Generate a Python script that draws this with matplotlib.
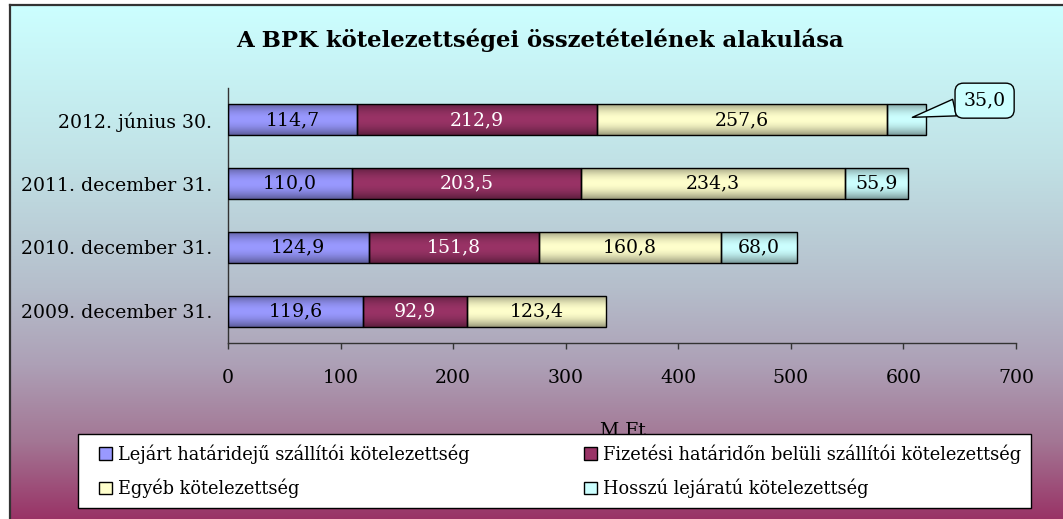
import numpy as np
import matplotlib
matplotlib.use("Agg")
import matplotlib.pyplot as plt
from matplotlib.patches import Patch
from matplotlib.lines import Line2D
from matplotlib.colors import to_rgb
from matplotlib.legend_handler import HandlerPatch

# ---------------- data ----------------
categories = ['2009. december 31.', '2010. december 31.',
              '2011. december 31.', '2012. június 30.']
series_names = ['Lejárt határidejű szállítói kötelezettség',
                'Fizetési határidőn belüli szállítói kötelezettség',
                'Egyéb kötelezettség',
                'Hosszú lejáratú kötelezettség']
lejart = [119.6, 124.9, 110.0, 114.7]
fizetesi = [92.9, 151.8, 203.5, 212.9]
egyeb = [123.4, 160.8, 234.3, 257.6]
hosszu = [np.nan, 68.0, 55.9, 35.0]
x_ticks = [0, 100, 200, 300, 400, 500, 600, 700]
title = 'A BPK kötelezettségei összetételének alakulása'
x_label = 'M Ft'

colors = ['#9999FF', '#993366', '#FFFFCC', '#CCFFFF']
label_colors = ['black', 'white', 'black', 'black']

plt.rcParams['font.family'] = ['DejaVu Serif']

W, H = 1063, 519
fig = plt.figure(figsize=(W / 100, H / 100), dpi=100)
fig.patch.set_facecolor('white')

# ---------------- background gradient ----------------
bg = fig.add_axes([10 / W, 0, 1 - 10 / W, 1 - 5 / H])
bg.set_axis_off()
stops_t = [0.0, 0.3, 0.55, 0.7, 0.85, 1.0]
stops_c = np.array([(204, 255, 255), (193, 226, 230), (181, 190, 203),
                    (173, 160, 182), (163, 118, 148), (153, 51, 102)]) / 255.0
t = np.linspace(0, 1, 400)
grad = np.stack([np.interp(t, stops_t, stops_c[:, k]) for k in range(3)], axis=-1)
bg.imshow(grad[:, None, :], aspect='auto', extent=[0, 1, 0, 1], origin='upper')
bg.set_xlim(0, 1)
bg.set_ylim(0, 1)
fig.add_artist(Line2D([10 / W, 1], [1 - 5 / H, 1 - 5 / H], color='#333333', lw=1.6))
fig.add_artist(Line2D([10 / W, 10 / W], [0, 1 - 5 / H], color='#333333', lw=1.6))

# ---------------- main axes ----------------
ax = fig.add_axes([228 / W, 1 - 343 / H, 788 / W, 255 / H])
ax.set_facecolor('none')

series = [lejart, fizetesi, egyeb, hosszu]
ypos = np.arange(len(categories))
bar_h = 0.49
lefts = np.zeros(len(categories))

prof_t = np.linspace(0, 1, 64)
shade = 0.60 + 0.40 * np.sin(np.pi * prof_t) ** 0.9


def fmt(v):
    return f'{v:.1f}'.replace('.', ',')


FS = 13.6
for si, vals in enumerate(series):
    v = np.array(vals, dtype=float)
    w = np.nan_to_num(v)
    bars = ax.barh(ypos, w, left=lefts, height=bar_h, facecolor='none',
                   edgecolor='black', linewidth=1.0, zorder=3)
    base = np.array(to_rgb(colors[si]))
    g = np.clip(shade[:, None] * base[None, :], 0, 1)
    for bi, p in enumerate(bars.patches):
        if np.isnan(v[bi]) or v[bi] == 0:
            p.set_visible(False)
            continue
        x0, y0 = p.get_x(), p.get_y()
        im = ax.imshow(g[:, None, :], aspect='auto', origin='lower',
                       extent=[x0, x0 + p.get_width(), y0, y0 + p.get_height()],
                       zorder=2, interpolation='bilinear')
        im.set_clip_path(p)
        cx = x0 + p.get_width() / 2
        if si == 3 and bi == 3:
            ax.annotate(fmt(v[bi]), xy=(x0 + p.get_width() * 0.65, ypos[bi] + 0.04),
                        xytext=(52, 12), textcoords='offset points',
                        ha='center', va='center', fontsize=FS, zorder=6,
                        bbox=dict(boxstyle='round,pad=0.45,rounding_size=0.45',
                                  fc='#CCFFFF', ec='black', lw=1.0),
                        arrowprops=dict(arrowstyle='wedge,tail_width=0.9,shrink_factor=0.5',
                                        fc='#CCFFFF', ec='black', lw=1.0,
                                        shrinkA=0, shrinkB=0))
        else:
            ax.text(cx, ypos[bi], fmt(v[bi]), ha='center', va='center',
                    fontsize=FS, color=label_colors[si], zorder=4)
    lefts = lefts + w

ax.set_xlim(0, 700)
ax.set_ylim(-0.5, len(categories) - 0.5)
ax.set_xticks(x_ticks)
ax.set_xticklabels([str(x) for x in x_ticks])
ax.set_yticks(ypos)
ax.set_yticklabels(categories)
ax.tick_params(axis='y', length=0, pad=11.5, labelsize=FS)
ax.tick_params(axis='x', length=4.5, width=1.0, direction='out', pad=14,
               labelsize=FS, color='#333333')
for s in ['top', 'right']:
    ax.spines[s].set_visible(False)
for s in ['left', 'bottom']:
    ax.spines[s].set_color('#333333')
    ax.spines[s].set_linewidth(1.0)

fig.text(540 / W, 1 - 40 / H, title, ha='center', va='center',
         fontsize=16.4, fontweight='bold')
fig.text(623 / W, 1 - 431 / H, x_label, ha='center', va='center',
         fontsize=FS, zorder=1)

handles = [Patch(facecolor=c, edgecolor='black', lw=1.0) for c in colors]
order = [0, 2, 1, 3]
leg = fig.legend([handles[i] for i in order], [series_names[i] for i in order],
                 loc='lower left', bbox_to_anchor=(78 / W, 11 / H, 953 / W, 72 / H),
                 mode='expand', ncol=2, frameon=True, fancybox=False,
                 edgecolor='black', framealpha=1, borderaxespad=0,
                 handlelength=1.35, handleheight=0.7, handletextpad=0.35,
                 handler_map={Patch: HandlerPatch(xpad=0.65)},
                 fontsize=12.8, labelspacing=0.85, borderpad=0.55)
leg.get_frame().set_linewidth(1.0)
leg.set_zorder(10)

fig.savefig('out.png', dpi=100)
